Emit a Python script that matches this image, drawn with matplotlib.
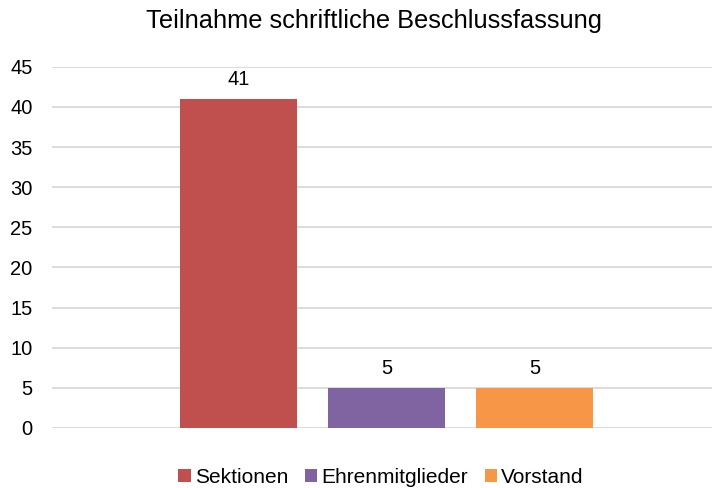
import numpy as np
import matplotlib.pyplot as plt

plt.rcParams['font.family'] = ['Liberation Sans', 'DejaVu Sans']

series = ['Sektionen', 'Ehrenmitglieder', 'Vorstand']
values = [41, 5, 5]
colors = ['#C0504D', '#8064A2', '#F79646']
yticks = [0, 5, 10, 15, 20, 25, 30, 35, 40, 45]

fig = plt.figure(figsize=(7.12, 4.88), dpi=100)
ax = fig.add_axes([0.073, 0.123, 0.927, 0.74])

pos = np.arange(len(series)) - 1
width = 117 / 148
bars = []
for i in range(len(series)):
    b = ax.bar(pos[i], values[i], width=width, color=colors[i], label=series[i], zorder=3)
    bars.append(b)
    ax.annotate(str(values[i]), (pos[i], values[i]), xytext=(0, 7), textcoords='offset points',
                ha='center', va='bottom', fontsize=14.5)

ax.set_xlim(-334.5 / 148, 325.5 / 148)
ax.set_ylim(0, 45)
ax.set_yticks(yticks)
ax.set_xticks([])
ax.grid(axis='y', color='#D9D9D9', linewidth=1.3, zorder=0)
for s in ax.spines.values():
    s.set_visible(False)
ax.tick_params(axis='y', length=0, pad=14, labelsize=14.5)

fig.suptitle('Teilnahme schriftliche Beschlussfassung', x=0.525, y=0.982, va='top', fontsize=18.3)

fig.legend(handles=[b[0] for b in bars], labels=series, loc='lower center',
           bbox_to_anchor=(0.535, -0.036), ncol=3, frameon=False, fontsize=15,
           handlelength=0.6, handleheight=0.6, handletextpad=0.2, columnspacing=0.8)

fig.savefig('out.png', dpi=100)
